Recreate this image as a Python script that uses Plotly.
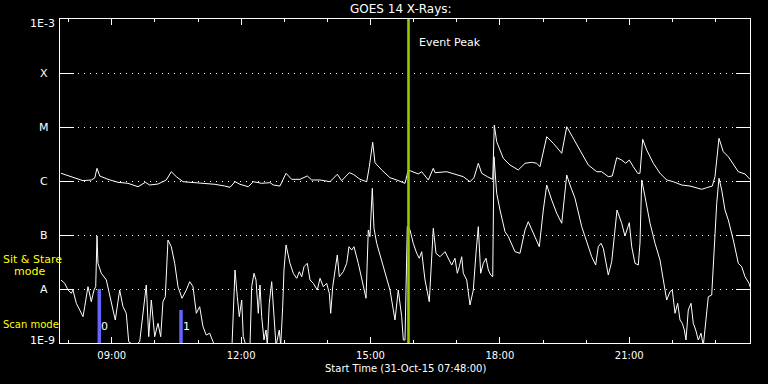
import numpy as np
import pandas as pd
import plotly.graph_objects as go

# ---------------- data ----------------
# GOES 14 long channel (1-8 A): time in decimal hours UT, log10 flux (W/m^2)
long_hours = [7.823, 8.141, 8.333, 8.526, 8.605, 8.658, 8.721, 8.913, 9.145, 9.377,
              9.609, 9.778, 9.880, 10.072, 10.265, 10.381, 10.497, 10.652, 10.845, 11.077,
              11.387, 11.619, 11.742, 11.858, 11.974, 12.166, 12.282, 12.477, 12.670, 12.746,
              12.901, 13.041, 13.173, 13.365, 13.534, 13.637, 13.829, 14.061, 14.230, 14.332,
              14.508, 14.601, 14.757, 14.912, 14.972, 15.051, 15.104, 15.260, 15.452, 15.608,
              15.684, 15.800, 15.876, 15.992, 16.108, 16.187, 16.340, 16.456, 16.496, 16.767,
              16.999, 17.152, 17.307, 17.400, 17.500, 17.578, 17.708, 17.834, 17.871, 17.926,
              18.079, 18.235, 18.427, 18.583, 18.738, 18.854, 18.930, 19.086, 19.239, 19.434,
              19.550, 19.703, 19.898, 20.051, 20.246, 20.361, 20.514, 20.607, 20.709, 20.825,
              20.918, 21.001, 21.094, 21.196, 21.249, 21.312, 21.405, 21.558, 21.713, 21.868,
              22.021, 22.216, 22.409, 22.564, 22.680, 22.796, 22.926, 22.988, 23.081, 23.181,
              23.297, 23.529, 23.684, 23.800]
long_log10 = [-5.857, -5.950, -5.994, -5.981, -5.944, -5.765, -5.907, -5.969, -6.024, -6.043,
              -6.106, -6.024, -6.074, -6.056, -5.981, -5.828, -5.920, -6.013, -6.024, -6.043,
              -6.061, -6.093, -6.117, -6.013, -6.061, -6.106, -6.013, -6.043, -6.031, -6.074,
              -6.093, -5.857, -5.969, -5.969, -5.907, -5.981, -5.981, -6.013, -5.876, -5.994,
              -5.846, -5.876, -5.969, -6.013, -5.735, -5.283, -5.661, -5.796, -5.939, -5.981,
              -6.000, -6.043, -5.796, -5.828, -5.870, -5.828, -5.981, -5.765, -5.846, -5.828,
              -5.889, -5.920, -6.013, -5.939, -5.672, -5.857, -5.920, -5.969, -4.963, -5.272,
              -5.580, -5.704, -5.796, -5.672, -5.654, -5.672, -5.735, -5.180, -5.302, -5.487,
              -4.994, -5.209, -5.487, -5.704, -5.828, -5.828, -5.920, -5.907, -5.569, -5.611,
              -5.672, -5.611, -5.735, -5.857, -5.857, -5.228, -5.426, -5.672, -5.857, -5.981,
              -6.013, -6.074, -6.093, -6.124, -6.154, -6.124, -6.093, -5.920, -5.209, -5.457,
              -5.550, -5.828, -5.870, -5.969]

# GOES 14 short channel (0.5-4 A)
short_hours = [7.823, 7.909, 7.986, 8.062, 8.101, 8.178, 8.257, 8.333, 8.373, 8.449,
               8.526, 8.588, 8.628, 8.658, 8.681, 8.758, 8.874, 8.952, 9.029, 9.082,
               9.184, 9.261, 9.337, 9.393, 9.532, 9.648, 9.725, 9.801, 9.857, 9.917,
               9.996, 10.072, 10.135, 10.188, 10.242, 10.304, 10.381, 10.460, 10.536, 10.629,
               10.729, 10.808, 10.884, 10.961, 11.039, 11.116, 11.192, 11.271, 11.348, 11.387,
               11.788, 11.818, 11.858, 11.911, 11.958, 12.013, 12.050, 12.113, 12.206, 12.245,
               12.299, 12.345, 12.398, 12.438, 12.477, 12.530, 12.577, 12.607, 12.653, 12.709,
               12.746, 12.809, 12.885, 12.918, 12.964, 12.994, 13.041, 13.133, 13.210, 13.289,
               13.349, 13.405, 13.458, 13.534, 13.597, 13.673, 13.766, 13.829, 13.906, 13.984,
               14.045, 14.077, 14.124, 14.184, 14.230, 14.277, 14.369, 14.448, 14.501, 14.564,
               14.617, 14.717, 14.819, 14.896, 14.949, 14.988, 15.042, 15.081, 15.144, 15.297,
               15.452, 15.568, 15.644, 15.723, 15.761, 15.800, 15.853, 15.916, 15.992, 16.071,
               16.131, 16.187, 16.264, 16.363, 16.419, 16.456, 16.519, 16.612, 16.727, 16.804,
               16.883, 16.959, 17.013, 17.059, 17.115, 17.152, 17.231, 17.307, 17.384, 17.446,
               17.500, 17.555, 17.616, 17.678, 17.732, 17.787, 17.834, 17.864, 17.926, 18.003,
               18.119, 18.196, 18.351, 18.467, 18.583, 18.659, 18.775, 18.914, 19.007, 19.086,
               19.202, 19.318, 19.434, 19.550, 19.626, 19.742, 19.898, 20.013, 20.129, 20.222,
               20.282, 20.345, 20.398, 20.514, 20.593, 20.653, 20.716, 20.825, 20.901, 21.001,
               21.057, 21.133, 21.210, 21.249, 21.289, 21.366, 21.482, 21.598, 21.713, 21.790,
               21.868, 21.945, 21.998, 22.061, 22.123, 22.177, 22.230, 22.277, 22.316, 22.369,
               22.432, 22.485, 22.541, 22.601, 22.664, 22.717, 22.773, 22.833, 22.912, 22.972,
               23.028, 23.081, 23.144, 23.220, 23.297, 23.413, 23.529, 23.607, 23.684, 23.777,
               23.800]
short_log10 = [-7.833, -7.894, -8.019, -8.080, -8.019, -8.265, -8.389, -8.513, -8.328, -7.957,
               -8.235, -8.019, -7.957, -7.019, -7.524, -7.709, -7.833, -8.143, -8.389, -8.574,
               -8.019, -8.328, -8.450, -8.976, -9.050, -8.976, -8.389, -7.926, -8.883, -8.204,
               -8.883, -8.635, -8.883, -8.235, -8.143, -7.093, -7.217, -7.524, -7.957, -8.172,
               -8.019, -7.865, -7.957, -8.450, -8.328, -8.698, -8.852, -8.820, -8.976, -9.050,
               -9.050, -8.513, -7.648, -8.143, -8.513, -8.204, -8.883, -9.050, -9.050, -7.957,
               -7.709, -7.833, -8.450, -7.926, -8.513, -8.944, -8.759, -9.050, -8.265, -7.865,
               -8.265, -9.050, -8.759, -9.050, -8.328, -7.648, -7.185, -7.524, -7.709, -7.802,
               -7.680, -7.772, -7.587, -7.524, -7.833, -7.894, -8.019, -7.802, -7.957, -7.894,
               -8.080, -8.450, -7.957, -7.648, -7.370, -7.772, -7.680, -7.524, -7.217, -7.278,
               -7.217, -7.524, -7.894, -8.172, -6.907, -7.031, -6.135, -6.876, -7.154, -7.587,
               -8.019, -8.574, -8.019, -8.513, -8.944, -8.944, -6.846, -6.907, -7.154, -7.339,
               -7.431, -7.309, -7.833, -8.235, -7.463, -6.876, -7.339, -7.402, -7.309, -7.431,
               -7.556, -7.431, -7.709, -7.587, -7.402, -7.709, -7.833, -8.296, -8.019, -7.339,
               -6.846, -7.709, -7.524, -7.431, -7.648, -7.741, -7.772, -5.550, -6.228, -6.537,
               -6.939, -7.031, -7.309, -7.339, -6.907, -6.754, -6.969, -7.217, -6.537, -6.074,
               -6.352, -6.598, -6.783, -5.889, -6.074, -6.320, -6.846, -7.124, -7.402, -7.556,
               -7.217, -7.154, -7.246, -7.741, -7.494, -7.031, -6.537, -6.783, -7.019, -6.772,
               -7.217, -7.524, -7.556, -7.154, -5.981, -6.291, -6.783, -7.154, -7.463, -7.833,
               -8.204, -8.050, -8.019, -8.450, -8.265, -8.574, -8.635, -8.759, -8.944, -8.389,
               -8.265, -8.635, -8.759, -8.944, -8.820, -9.050, -8.635, -8.143, -8.111, -7.154,
               -6.413, -5.950, -6.167, -6.537, -6.722, -7.093, -7.524, -7.587, -7.772, -7.894,
               -7.957]

# Scan-mode markers (hours UT, top log10 level, label)
scan_hours = [8.711, 10.606]
scan_top_log10 = [-8.0, -8.389]
scan_labels = ["0", "1"]

event_peak_hours = 15.881

class_labels = ["1E-9", "A", "B", "C", "M", "X", "1E-3"]
class_log10 = [-9, -8, -7, -6, -5, -4, -3]

day = pd.Timestamp("2015-10-31")
start = pd.Timestamp("2015-10-31 07:48:00")
end = pd.Timestamp("2015-10-31 23:48:00")


def to_time(hours):
    return [day + pd.Timedelta(hours=h) for h in hours]


FONT = "DejaVu Sans"
fig = go.Figure()

# scan-mode bars
bx, by = [], []
for h, top in zip(scan_hours, scan_top_log10):
    t = day + pd.Timedelta(hours=h)
    bx += [t, t, None]
    by += [1e-9, 10 ** top, None]
fig.add_trace(go.Scatter(x=bx, y=by, mode="lines",
                         line=dict(color="#6464ff", width=3.5), hoverinfo="skip"))

fig.add_trace(go.Scatter(x=to_time(long_hours), y=10 ** np.array(long_log10),
                         mode="lines", line=dict(color="white", width=1)))
fig.add_trace(go.Scatter(x=to_time(short_hours), y=10 ** np.array(short_log10),
                         mode="lines", line=dict(color="white", width=1)))

tpeak = day + pd.Timedelta(hours=event_peak_hours)
fig.add_trace(go.Scatter(x=[tpeak, tpeak], y=[1e-9, 1e-3], mode="lines",
                         line=dict(color="#98c800", width=2.6)))

annotations = []
# y class labels
for lab, lv in zip(class_labels, class_log10):
    if lab.startswith("1E"):
        annotations.append(dict(x=0, xref="paper", y=lv, yref="y", text=lab,
                                xanchor="right", xshift=-3,
                                yshift=(-4 if lv == -3 else 3), showarrow=False,
                                font=dict(family=FONT, size=11, color="white")))
    else:
        annotations.append(dict(x=0, xref="paper", y=lv, yref="y", text=lab,
                                xanchor="center", xshift=-16, showarrow=False,
                                font=dict(family=FONT, size=11, color="white")))

for h, lab in zip(scan_hours, scan_labels):
    annotations.append(dict(x=day + pd.Timedelta(hours=h), xref="x", y=0.025, yref="paper",
                            text=lab, xanchor="left", xshift=0, showarrow=False,
                            font=dict(family=FONT, size=11, color="white")))

annotations += [
    dict(x=0.494, xref="paper", y=1, yref="paper", yshift=10, text="GOES 14 X-Rays:",
         showarrow=False, yanchor="middle",
         font=dict(family=FONT, size=12, color="white")),
    dict(x=tpeak, xref="x", y=0.926, yref="paper", text="Event Peak", xanchor="left",
         xshift=9, yanchor="middle", showarrow=False,
         font=dict(family=FONT, size=11, color="white")),
    dict(x=0.5, xref="paper", y=0, yref="paper", yshift=-25, yanchor="middle",
         text="Start Time (31-Oct-15 07:48:00)", showarrow=False,
         font=dict(family=FONT, size=10, color="white")),
    dict(x=0, xref="paper", xshift=-59, xanchor="left", y=0.259, yref="paper",
         yanchor="middle", text="Sit & Stare", showarrow=False,
         font=dict(family=FONT, size=11, color="yellow")),
    dict(x=0, xref="paper", xshift=-48, xanchor="left", y=0.222, yref="paper",
         yanchor="middle", text="mode", showarrow=False,
         font=dict(family=FONT, size=11, color="yellow")),
    dict(x=0, xref="paper", xshift=-59, xanchor="left", y=0.0586, yref="paper",
         yanchor="middle", text="Scan mode", showarrow=False,
         font=dict(family=FONT, size=10, color="yellow")),
]

fig.update_layout(
    width=768, height=384,
    margin=dict(l=60, r=18, t=19, b=41),
    paper_bgcolor="black", plot_bgcolor="black",
    showlegend=False,
    annotations=annotations,
    xaxis=dict(type="date", range=[start, end],
               showline=True, linecolor="white", linewidth=1, mirror="ticks",
               ticks="inside", ticklen=6, tickcolor="white", tickwidth=1,
               tick0="2015-10-31 09:00", dtick=3 * 3600000, tickformat="%H:%M",
               ticklabelstandoff=3,
               tickfont=dict(family=FONT, size=10, color="white"),
               showgrid=False, zeroline=False,
               minor=dict(dtick=3600000, tick0="2015-10-31 09:00", ticks="inside",
                          ticklen=3, tickcolor="white", showgrid=False)),
    yaxis=dict(type="log", range=[-9, -3],
               showline=True, linecolor="white", linewidth=1, mirror="ticks",
               ticks="inside", ticklen=14, tickcolor="white", tickwidth=1,
               tickvals=[10.0 ** v for v in class_log10], showticklabels=False,
               showgrid=True, gridcolor="white", gridwidth=1, griddash="1px,5px",
               zeroline=False),
)

fig.write_html("out.html")
